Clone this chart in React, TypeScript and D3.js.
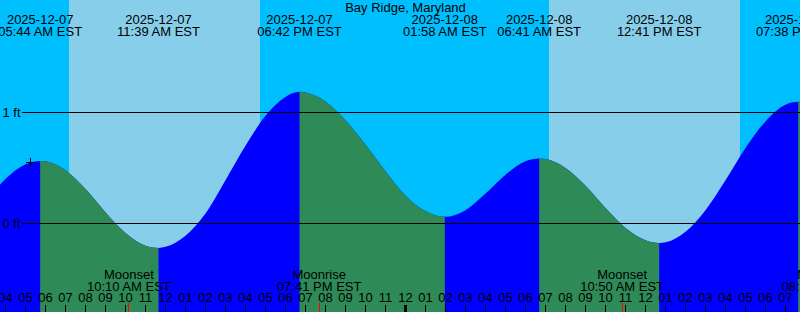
import React from "react";
import * as d3 from "d3";

// ---- data ----
const title = "Bay Ridge, Maryland";

// hourly tide level (ft), hours counted from 2025-12-07 00:00 EST
const levelHours = [3, 4, 5, 6, 7, 8, 9, 10, 11, 12, 13, 14, 15, 16, 17, 18, 19, 20, 21, 22, 23, 24, 25, 26, 27, 28, 29, 30, 31, 32, 33, 34, 35, 36, 37, 38, 39, 40, 41, 42, 43, 44];
const levelFeet = [0.19, 0.4, 0.533, 0.56, 0.48, 0.31, 0.1, -0.085, -0.2, -0.21, -0.11, 0.09, 0.39, 0.7, 0.97, 1.14, 1.18, 1.1, 0.93, 0.71, 0.47, 0.25, 0.11, 0.06, 0.12, 0.27, 0.44, 0.56, 0.58, 0.5, 0.34, 0.14, -0.04, -0.15, -0.17, -0.075, 0.12, 0.39, 0.68, 0.92, 1.07, 1.09];

// high / low tides
const tideHours = [5.733, 11.65, 18.7, 25.967, 30.683, 36.683, 43.633];
const tideFeet = [0.564, -0.22, 1.186, 0.06, 0.585, -0.175, 1.096];
const tideIsHigh = [true, false, true, false, true, false, true];
const tideDates = ["2025-12-07", "2025-12-07", "2025-12-07", "2025-12-08", "2025-12-08", "2025-12-08", "2025-12-08"];
const tideTimes = ["05:44 AM EST", "11:39 AM EST", "06:42 PM EST", "01:58 AM EST", "06:41 AM EST", "12:41 PM EST", "07:38 PM EST"];

// sunrise / sunset
const sunHours = [7.175, 16.725, 31.175, 40.725];
const sunIsRise = [true, false, true, false];

// moon events
const moonHours = [10.167, 19.683, 34.833, 44.92];
const moonNames = ["Moonset", "Moonrise", "Moonset", "Moonrise"];
const moonTimes = ["10:10 AM EST", "07:41 PM EST", "10:50 AM EST", "08:55 PM EST"];

// datum lines
const datumFeet = [0, 1];
const datumLabels = ["0 ft", "1 ft"];

// current-time mark
const nowHour = 5.25;
const nowFeet = 0.55;

// ---- layout ----
const W = 800;
const H = 312;
const FONT = "'Liberation Sans', Arial, Helvetica, sans-serif";
const C_NIGHT_BG = "#00BFFF";
const C_DAY_BG = "#87CEEB";
const C_FALL = "#2E8B57";
const C_RISE = "#0000FF";

export default function App() {
  const x = d3.scaleLinear().domain([4, 24]).range([5.5, 405.5]);
  const y = d3.scaleLinear().domain([0, 1]).range([223.5, 112.5]);

  type P = { t: number; h: number };
  const pts: P[] = [];
  levelHours.forEach((t, i) => {
    if (tideHours.every((e) => Math.abs(e - t) > 0.1)) pts.push({ t, h: levelFeet[i] });
  });
  tideHours.forEach((t, i) => pts.push({ t, h: tideFeet[i] }));
  pts.sort((a, b) => a.t - b.t);

  const area = d3
    .area<P>()
    .x((d) => x(d.t))
    .y0(H)
    .y1((d) => y(d.h))
    .curve(d3.curveMonotoneX);
  const areaPath = area(pts) || "";

  // falling intervals (high -> next low)
  const falling: [number, number][] = [];
  tideHours.forEach((t, i) => {
    if (tideIsHigh[i]) {
      const end = i + 1 < tideHours.length ? tideHours[i + 1] : levelHours[levelHours.length - 1] + 2;
      falling.push([t, end]);
    }
  });

  // day intervals
  const days: [number, number][] = [];
  sunHours.forEach((t, i) => {
    if (sunIsRise[i]) {
      const end = i + 1 < sunHours.length ? sunHours[i + 1] : 60;
      days.push([t, end]);
    }
  });

  const t0 = x.invert(0);
  const t1 = x.invert(W);
  const hourTicks = d3.range(Math.ceil(t0), Math.floor(t1) + 1);
  const px = (v: number) => Math.floor(v) + 0.5;

  return (
    <svg
      width={W}
      height={H}
      style={{ position: "absolute", left: 0, top: 0, display: "block" }}
      fontFamily={FONT}
      fontSize={13}
    >
      <defs>
        {falling.map(([a, b], i) => (
          <clipPath id={`fall${i}`} key={i}>
            <rect x={x(a)} y={0} width={x(b) - x(a)} height={H} />
          </clipPath>
        ))}
      </defs>
      <rect x={0} y={0} width={W} height={H} fill={C_NIGHT_BG} />
      {days.map(([a, b], i) => (
        <rect key={i} x={Math.round(x(a))} y={0} width={Math.round(x(b)) - Math.round(x(a))} height={H} fill={C_DAY_BG} />
      ))}
      <path d={areaPath} fill={C_RISE} />
      {falling.map((_, i) => (
        <path key={i} d={areaPath} fill={C_FALL} clipPath={`url(#fall${i})`} />
      ))}

      {datumFeet.map((f, i) => (
        <g key={i}>
          <line x1={22} x2={W} y1={y(f)} y2={y(f)} stroke="#000" strokeWidth={1} />
          <text x={2.5} y={y(f) + 4} fill="#000">
            {datumLabels[i]}
          </text>
        </g>
      ))}

      {/* now mark */}
      <g stroke="#000" strokeWidth={1}>
        <line x1={px(x(nowHour)) - 4.5} x2={px(x(nowHour)) + 4.5} y1={px(y(nowFeet))} y2={px(y(nowFeet))} />
        <line x1={px(x(nowHour))} x2={px(x(nowHour))} y1={px(y(nowFeet)) - 4.5} y2={px(y(nowFeet)) + 4.5} />
      </g>

      {/* tide labels */}
      {tideHours.map((t, i) => (
        <g key={i} textAnchor="middle" fill="#000">
          <text x={x(t)} y={24}>{tideDates[i]}</text>
          <text x={x(t)} y={36}>{tideTimes[i]}</text>
        </g>
      ))}

      <text x={405.5} y={11.5} textAnchor="middle" fill="#000">
        {title}
      </text>

      {/* moon labels */}
      {moonHours.map((t, i) => (
        <g key={i} textAnchor="middle" fill="#000">
          <text x={x(t)} y={278.5}>{moonNames[i]}</text>
          <text x={x(t)} y={290.5}>{moonTimes[i]}</text>
        </g>
      ))}

      {/* hour labels and ticks */}
      {hourTicks.map((t) => {
        const hr = ((t % 12) + 12) % 12 || 12;
        const lab = hr < 10 ? `0${hr}` : `${hr}`;
        const xx = x(t);
        const mid = t % 24 === 0;
        return (
          <g key={t}>
            <text x={xx} y={301.5} textAnchor="middle" fill="#000">
              {lab}
            </text>
            {mid ? (
              <rect x={Math.floor(xx) - 1} y={305} width={3} height={H - 305} fill="#000" />
            ) : (
              <line x1={px(xx)} x2={px(xx)} y1={305} y2={H} stroke="#000" strokeWidth={1} />
            )}
          </g>
        );
      })}
      {moonHours.map((t, i) => (
        <line key={i} x1={px(x(t))} x2={px(x(t))} y1={303} y2={H} stroke="#FF0000" strokeWidth={1} />
      ))}
    </svg>
  );
}
